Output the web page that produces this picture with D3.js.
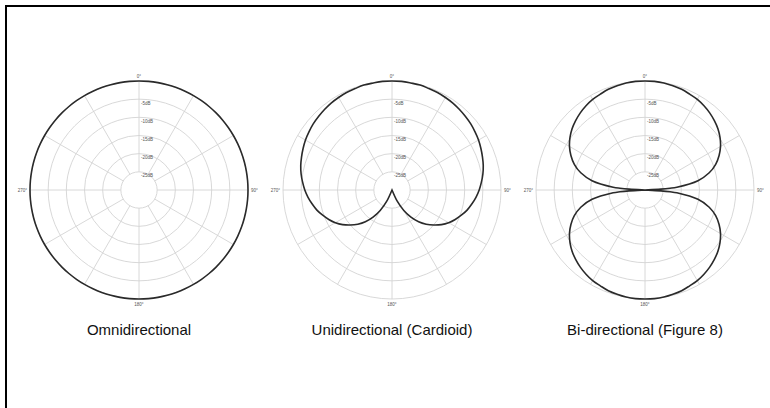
<!DOCTYPE html>
<html>
<head>
  <meta charset="UTF-8">
  <style>
body {
    margin: 0;
    padding: 0;
    background-color: white;
}
svg {
    display: block;
}
  </style>
</head>
<body>
<svg></svg>

<script src="https://d3js.org/d3.v7.min.js"></script>
<script>

let width = 770, height = 408;

// chart titles (one per polar plot)
const titles = ["Omnidirectional", "Unidirectional (Cardioid)", "Bi-directional (Figure 8)"];

// grid rings in dB and their labels
const ringDb = [0, -5, -10, -15, -20, -25];
const dbLabels = ["-5dB", "-10dB", "-15dB", "-20dB", "-25dB"];
const spokeAngles = [0, 30, 60, 90, 120, 150, 180, 210, 240, 270, 300, 330];
const angleLabels = [[0, "0°"], [90, "90°"], [180, "180°"], [270, "270°"]];

// response, degrees 0..180 (mirrored for the other side)
const angles = [0, 5, 10, 15, 20, 25, 30, 35, 40, 45, 50, 55, 60, 65, 70, 75, 80, 85, 90,
  95, 100, 105, 110, 115, 120, 125, 130, 135, 140, 145, 150, 155, 160, 165, 170, 175, 180];
const omniDb = [0, 0, 0, 0, 0, 0, 0, 0, 0, 0, 0, 0, 0, 0, 0, 0, 0, 0, 0,
  0, 0, 0, 0, 0, 0, 0, 0, 0, 0, 0, 0, 0, 0, 0, 0, 0, 0];
const cardioidDb = [0, 0, -0.1, -0.1, -0.3, -0.4, -0.6, -0.8, -1.1, -1.4, -1.7, -2.1, -2.5, -3, -3.5, -4, -4.6, -5.3, -6,
  -6.8, -7.7, -8.6, -9.7, -10.8, -12, -13.4, -15, -16.7, -18.6, -20.9, -23.5, -26.6, -30, -30, -30, -30, -30];

// figure 8 needs finer steps where the lobes meet at the centre
const fig8Angles = [0, 5, 10, 15, 20, 25, 30, 35, 40, 45, 50, 55, 60, 65, 70, 75, 80, 85, 86, 87, 88, 89, 90,
  91, 92, 93, 94, 95, 100, 105, 110, 115, 120, 125, 130, 135, 140, 145, 150, 155, 160, 165, 170, 175, 180];
const figure8Db = [0, 0, -0.1, -0.3, -0.5, -0.9, -1.2, -1.7, -2.3, -3, -3.8, -4.8, -6, -7.5, -9.3, -11.7, -15.2, -21.2, -23.1, -25.6, -29.1, -30, -30,
  -30, -29.1, -25.6, -23.1, -21.2, -15.2, -11.7, -9.3, -7.5, -6, -4.8, -3.8, -3, -2.3, -1.7, -1.2, -0.9, -0.5, -0.3, -0.1, 0, 0];

const responses = [[angles, omniDb], [angles, cardioidDb], [fig8Angles, figure8Db]];

let svg = d3.select("svg")
    .attr("width", width)
    .attr("height", height);

// frame lines (top and left only)
svg.append("line")
  .attr("x1", 5).attr("y1", 6).attr("x2", width).attr("y2", 6)
  .attr("stroke", "black").attr("stroke-width", 2);
svg.append("line")
  .attr("x1", 6).attr("y1", 5).attr("x2", 6).attr("y2", height)
  .attr("stroke", "black").attr("stroke-width", 2);

const R = 109;
const centerX = d3.scalePoint().domain(titles).range([139, 645]);
const cy = 190;

let r = d3.scaleLinear().domain([-30, 0]).range([0, R]).clamp(true);
const rad = d => d * Math.PI / 180;

let line = d3.lineRadial()
  .angle(d => rad(d[0]))
  .radius(d => r(d[1]))
  .curve(d3.curveCatmullRomClosed.alpha(0.5));

titles.forEach((title, i) => {
  let g = svg.append("g")
    .attr("transform", `translate(${centerX(title)}, ${cy})`);

  // rings
  g.selectAll("circle.ring")
    .data(ringDb)
    .enter()
    .append("circle")
    .attr("class", "ring")
    .attr("r", d => r(d))
    .attr("fill", "none")
    .attr("stroke", "#d4d4d4")
    .attr("stroke-width", 0.9);

  // spokes
  g.selectAll("line.spoke")
    .data(spokeAngles)
    .enter()
    .append("line")
    .attr("x1", d => Math.sin(rad(d)) * r(-25))
    .attr("y1", d => -Math.cos(rad(d)) * r(-25))
    .attr("x2", d => Math.sin(rad(d)) * r(0))
    .attr("y2", d => -Math.cos(rad(d)) * r(0))
    .attr("stroke", "#d4d4d4")
    .attr("stroke-width", 0.9);

  // dB labels along the 0° axis
  g.selectAll("text.db")
    .data(dbLabels)
    .enter()
    .append("text")
    .attr("x", 2)
    .attr("y", (d, k) => -r(ringDb[k + 1]) + 5.5)
    .attr("font-family", "Liberation Sans, Arial, sans-serif")
    .attr("font-size", "4.5px")
    .attr("fill", "#555")
    .text(d => d);

  // angle labels
  g.selectAll("text.ang")
    .data(angleLabels)
    .enter()
    .append("text")
    .attr("x", d => d[0] == 90 ? R + 3 : d[0] == 270 ? -R - 3 : 0)
    .attr("y", d => d[0] == 0 ? -R - 3 : d[0] == 180 ? R + 7 : 1.5)
    .attr("text-anchor", d => d[0] == 90 ? "start" : d[0] == 270 ? "end" : "middle")
    .attr("font-family", "Liberation Sans, Arial, sans-serif")
    .attr("font-size", "4.5px")
    .attr("fill", "#555")
    .text(d => d[1]);

  // response curve: right half then mirrored left half
  let [angs, vals] = responses[i];
  let pts = angs.map((a, k) => [a, vals[k]]);
  for (let k = angs.length - 2; k > 0; k--) pts.push([360 - angs[k], vals[k]]);

  g.append("path")
    .attr("d", line(pts))
    .attr("fill", "none")
    .attr("stroke", "#2a2a2a")
    .attr("stroke-width", 1.6);

  svg.append("text")
    .attr("x", centerX(title))
    .attr("y", 335)
    .attr("text-anchor", "middle")
    .attr("font-family", "Liberation Sans, Arial, sans-serif")
    .attr("font-size", "15px")
    .attr("fill", "#111")
    .text(title);
});

</script>
</body>
</html>
